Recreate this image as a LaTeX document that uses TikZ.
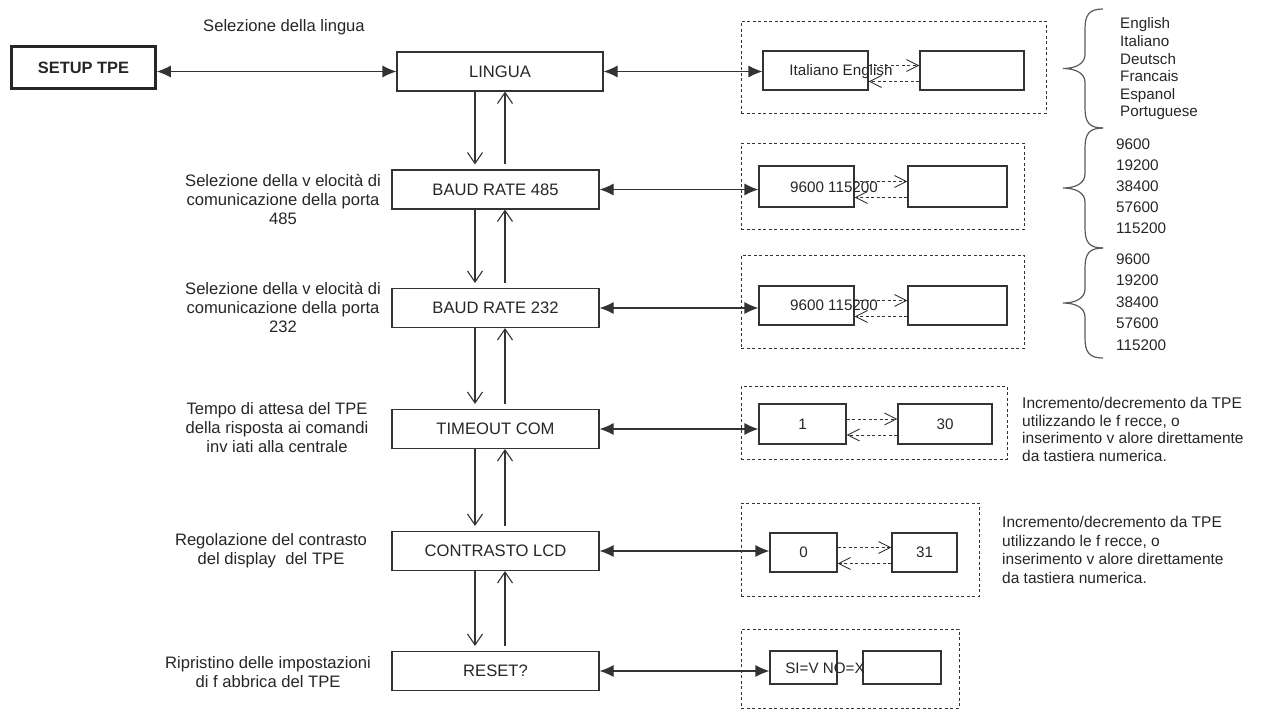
\documentclass[tikz,border=0pt]{standalone}
\usepackage{fontspec}
\setmainfont{Liberation Sans}
\usetikzlibrary{arrows.meta,positioning,calc}
\definecolor{ink}{HTML}{262626}
\definecolor{wire}{HTML}{333333}
\definecolor{bracegrey}{HTML}{5A5A5A}
\tikzset{
  setupbox/.style={rectangle,draw=ink,line width=2.6pt,minimum width=144pt,minimum height=42pt,font=\fontsize{16.4}{19}\selectfont\bfseries,text=ink},
  menubox/.style={rectangle,draw=wire,line width=1.1pt,minimum width=206pt,minimum height=39pt,font=\fontsize{16.6}{19}\selectfont,text=ink},
  valbox/.style={rectangle,draw=wire,line width=1.1pt,minimum height=39pt,font=\fontsize{15.2}{18}\selectfont,text=ink},
  groupbox/.style={rectangle,draw=wire,line width=1pt,dash pattern=on 3pt off 2.5pt},
  desc/.style={align=center,inner sep=0pt,font=\fontsize{16.6}{19}\selectfont,text=ink},
  note/.style={align=left,inner sep=0pt,anchor=west,text=ink},
  vallabel/.style={inner sep=0pt,font=\fontsize{15.2}{18}\selectfont,text=ink},
  biarrow/.style={{Latex[length=14pt,width=12pt]}-{Latex[length=14pt,width=12pt]},line width=1.1pt,draw=wire},
  navarrow/.style={-{Straight Barb[length=11pt,width=15pt]},line width=1.1pt,draw=wire},
  dasharrow/.style={-{Straight Barb[length=12pt,width=12pt]},dash pattern=on 3pt off 2.5pt,line width=0.9pt,draw=wire},
  bracepath/.style={draw=bracegrey,line width=1.2pt}
}

\begin{document}
\begin{tikzpicture}[x=1pt,y=-1pt]
  \useasboundingbox (0,0) rectangle (1287,718);

  % main menu column
  \node[setupbox] (setup) at (83.5,67.5) {SETUP TPE};
  \node[menubox] (lingua) at (500,71.5) {LINGUA};
  \node[menubox,minimum width=207pt] (baudA) at (495.5,189.5) {BAUD RATE 485};
  \node[menubox,minimum width=207pt] (baudB) at (495.5,308) {BAUD RATE 232};
  \node[menubox,minimum width=207pt] (timeout) at (495.5,429) {TIMEOUT COM};
  \node[menubox,minimum width=207pt] (contrast) at (495.5,551) {CONTRASTO LCD};
  \node[menubox,minimum width=207pt] (reset) at (495.5,671) {RESET?};

  % descriptions on the left
  \node[desc] (dLingua) at (284,27) {Selezione della lingua};
  \node[desc] (dBaudA) at (283,199) {Selezione della v elocità di\\comunicazione della porta\\485};
  \node[desc] (dBaudB) at (283,307.5) {Selezione della v elocità di\\comunicazione della porta\\232};
  \node[desc] (dTimeout) at (277,428) {Tempo di attesa del TPE\\della risposta ai comandi\\inv iati alla centrale};
  \node[desc] (dContrast) at (271,550.5) {Regolazione del contrasto\\del display\ \ del TPE};
  \node[desc] (dReset) at (268,672.5) {Ripristino delle impostazioni\\di f abbrica del TPE};

  % dashed value groups
  \node[groupbox,minimum width=305pt,minimum height=92pt] (gLingua) at (893.5,67) {};
  \node[groupbox,minimum width=283pt,minimum height=86pt] (gBaudA) at (882.5,186) {};
  \node[groupbox,minimum width=283pt,minimum height=93pt] (gBaudB) at (882.5,301.5) {};
  \node[groupbox,minimum width=266pt,minimum height=73pt] (gTimeout) at (874,422.5) {};
  \node[groupbox,minimum width=238pt,minimum height=93pt] (gContrast) at (860,549.5) {};
  \node[groupbox,minimum width=218pt,minimum height=79pt] (gReset) at (850,668.5) {};

  % value boxes
  \node[valbox,minimum width=105pt] (langL) at (815.5,70.5) {};
  \node[valbox,minimum width=104pt] (langR) at (972,70.5) {};
  \node[valbox,minimum width=95pt,minimum height=41pt] (rateAL) at (806.5,186.5) {};
  \node[valbox,minimum width=99pt,minimum height=41pt] (rateAR) at (957.5,186.5) {};
  \node[valbox,minimum width=95pt] (rateBL) at (806.5,305.5) {};
  \node[valbox,minimum width=99pt] (rateBR) at (957.5,305.5) {};
  \node[valbox,minimum width=87pt,minimum height=40pt] (timeL) at (802.5,424) {1};
  \node[valbox,minimum width=94pt,minimum height=40pt] (timeR) at (945,424) {30};
  \node[valbox,minimum width=67pt] (contL) at (803.5,552.5) {0};
  \node[valbox,minimum width=65pt] (contR) at (924.5,552.5) {31};
  \node[valbox,minimum width=67pt,minimum height=33pt] (resetL) at (803.5,667.5) {};
  \node[valbox,minimum width=78pt,minimum height=33pt] (resetR) at (902,667.5) {};

  % labels running over the value boxes
  \node[vallabel] (tLang) at (841,72) {Italiano English};
  \node[vallabel] (tRateA) at (834,187) {9600 115200};
  \node[vallabel] (tRateB) at (834,305) {9600 115200};
  \node[vallabel] (tReset) at (825,668) {SI=V NO=X};

  % option lists and notes on the right
  \node[note,font=\fontsize{15.2}{17.6}\selectfont] (lLang) at (1120,69) {English\\Italiano\\Deutsch\\Francais\\Espanol\\Portuguese};
  \node[note,font=\fontsize{15.3}{21}\selectfont] (lRateA) at (1116,186.5) {9600\\19200\\38400\\57600\\115200};
  \node[note,font=\fontsize{15.3}{21.5}\selectfont] (lRateB) at (1116,302) {9600\\19200\\38400\\57600\\115200};
  \node[note,font=\fontsize{15.5}{17.6}\selectfont] (nTimeout) at (1022,429.5) {Incremento/decremento da TPE\\utilizzando le f recce, o\\inserimento v alore direttamente\\da tastiera numerica.};
  \node[note,font=\fontsize{15.5}{18.5}\selectfont] (nContrast) at (1002,550) {Incremento/decremento da TPE\\utilizzando le f recce, o\\inserimento v alore direttamente\\da tastiera numerica.};

  % connectors
  \draw[biarrow] (setup.east |- lingua.west) -- (lingua.west);
  \foreach \m/\l in {lingua/langL, baudA/rateAL, baudB/rateBL, timeout/timeL, contrast/contL, reset/resetL}
    \draw[biarrow] (\m.east) -- (\m.east -| \l.west);
  \foreach \l/\r in {langL/langR, rateAL/rateAR, rateBL/rateBR, timeL/timeR, contL/contR} {
    \draw[dasharrow] ($(\l.east)+(0,-5)$) -- ($(\r.west)+(0,-5)$);
    \draw[dasharrow] ($(\r.west)+(0,11)$) -- ($(\l.east)+(0,11)$);
  }
  \coordinate (dnx) at (475,0);
  \coordinate (upx) at (505,0);
  \foreach \a/\c in {lingua/baudA, baudA/baudB, baudB/timeout, timeout/contrast, contrast/reset} {
    \draw[navarrow,shorten >=5pt] (\a.south -| dnx) -- (\c.north -| dnx);
    \draw[navarrow,shorten <=5pt] (\c.north -| upx) -- (\a.south -| upx);
  }

  % braces
  \foreach \ytop/\ybot in {9/128, 128/248, 248/358} {
    \pgfmathsetmacro\ymid{(\ytop+\ybot)/2}
    \draw[bracepath] (1103,\ytop) .. controls (1089,\ytop) and (1085,\ytop+6) .. (1085,\ytop+20)
      -- (1085,\ymid-14) .. controls (1085,\ymid-5) and (1076,\ymid) .. (1063,\ymid)
      .. controls (1076,\ymid) and (1085,\ymid+5) .. (1085,\ymid+14)
      -- (1085,\ybot-20) .. controls (1085,\ybot-6) and (1089,\ybot) .. (1103,\ybot);
  }
\end{tikzpicture}
\end{document}
